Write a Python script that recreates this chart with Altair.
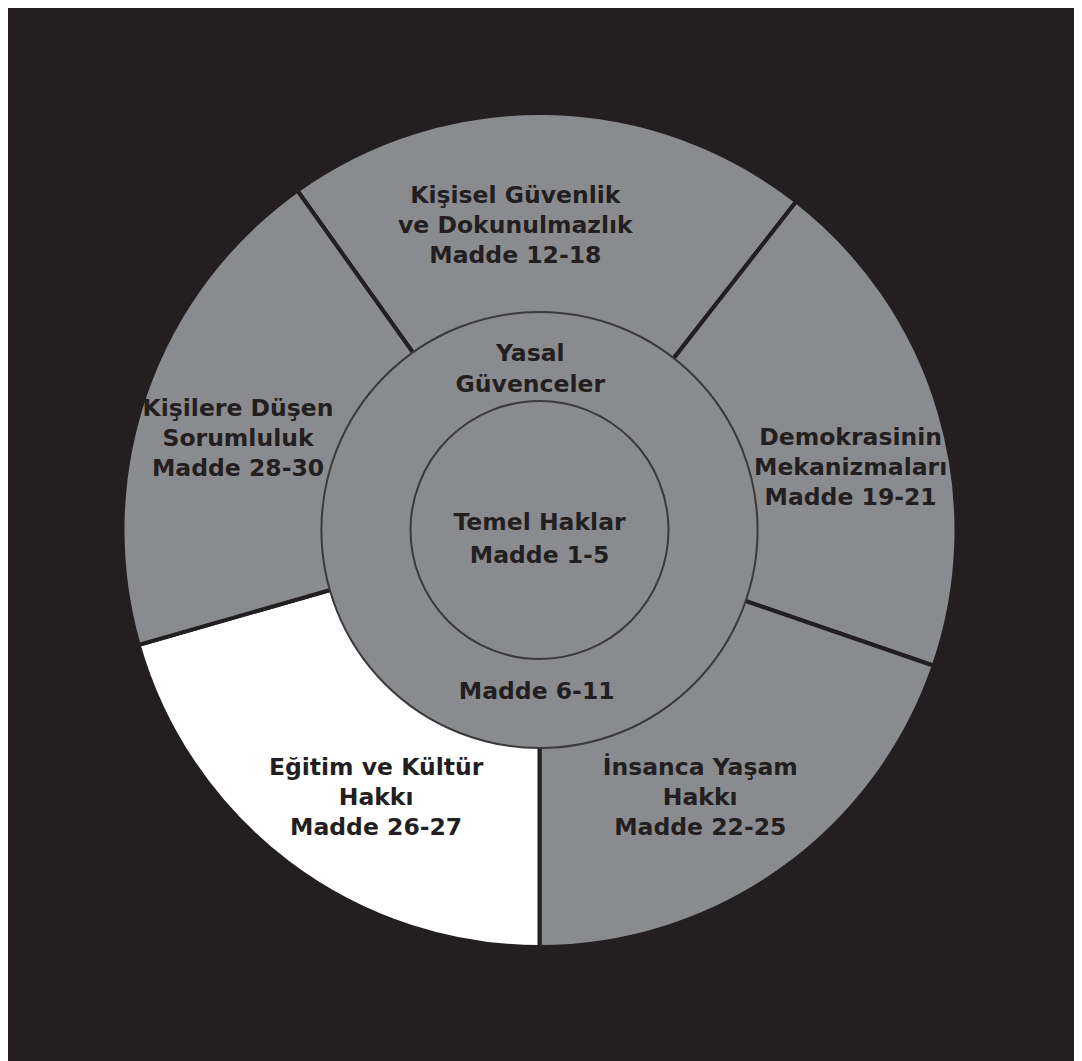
import math
import altair as alt
import pandas as pd

# Outer ring segments (clockwise from the top), angular spans in degrees
segments = ["Kişisel Güvenlik", "Demokrasinin", "İnsanca Yaşam", "Eğitim ve Kültür", "Kişilere Düşen"]
spans = [73.5, 71.0, 71.0, 74.0, 70.5]
outer_labels = [
    "Kişisel Güvenlik\nve Dokunulmazlık\nMadde 12-18",
    "Demokrasinin\nMekanizmaları\nMadde 19-21",
    "İnsanca Yaşam\nHakkı\nMadde 22-25",
    "Eğitim ve Kültür\nHakkı\nMadde 26-27",
    "Kişilere Düşen\nSorumluluk\nMadde 28-30",
]
seg_colors = ["#8a8b8e", "#8a8b8e", "#8a8b8e", "#ffffff", "#8a8b8e"]

middle_top = ["Yasal\nGüvenceler"]
middle_bottom = ["Madde 6-11"]
inner_label = ["Temel Haklar\nMadde 1-5"]

BG = "#231f20"
GRAY = "#8a8b8e"
INK = "#231f20"
FONT = "DejaVu Sans"
FS = 23.5

CX, CY = 531.5, 522
R_OUT, R_MID, R_IN = 417, 218, 129
start = math.radians(-35.5)

# label nudges (px) from the segment mid-angle anchor
nudges = {
    "Kişisel Güvenlik": (-31, -21),
    "Demokrasinin": (11, -3),
    "İnsanca Yaşam": (-21, -17),
    "Eğitim ve Kültür": (25, -12),
    "Kişilere Düşen": (-6, -18),
}

outer = pd.DataFrame({
    "segment": segments,
    "span": spans,
    "label": outer_labels,
    "order": list(range(len(segments))),
})

theta = alt.Theta("span:Q", stack=True,
                  scale=alt.Scale(domain=[0, 360], range=[start, start + 2 * math.pi]))
center = dict(x=alt.value(CX), y=alt.value(CY))

outer_arcs = alt.Chart(outer).mark_arc(
    innerRadius=R_MID - 5, outerRadius=R_OUT, stroke=BG, strokeWidth=4
).encode(
    theta=theta,
    order=alt.Order("order:Q"),
    color=alt.Color("segment:N", scale=alt.Scale(domain=segments, range=seg_colors), legend=None),
    **center,
)

text_layers = []
for seg in segments:
    dx, dy = nudges[seg]
    text_layers.append(
        alt.Chart(outer).mark_text(
            radius=313, font=FONT, fontWeight="bold", fontSize=FS, lineBreak="\n",
            lineHeight=30, color=INK, align="center", baseline="middle", dx=dx, dy=dy
        ).encode(
            theta=theta,
            order=alt.Order("order:Q"),
            text="label:N",
            opacity=alt.condition(alt.datum.segment == seg, alt.value(1), alt.value(0)),
            **center,
        )
    )

mid_df = pd.DataFrame({"v": [1]})
mid_disk = alt.Chart(mid_df).mark_arc(
    outerRadius=R_MID, fill=GRAY, stroke="#3a3a3c", strokeWidth=2
).encode(theta=alt.Theta("v:Q"), **center)

inner_disk = alt.Chart(mid_df).mark_arc(
    outerRadius=R_IN, fill=GRAY, stroke="#3a3a3c", strokeWidth=2
).encode(theta=alt.Theta("v:Q"), **center)

top_text = alt.Chart(pd.DataFrame({"t": middle_top})).mark_text(
    theta=math.radians(357), radius=176, font=FONT, fontWeight="bold", fontSize=FS,
    lineBreak="\n", lineHeight=31, color=INK, baseline="middle"
).encode(text="t:N", **center)

bottom_text = alt.Chart(pd.DataFrame({"t": middle_bottom})).mark_text(
    theta=math.radians(181), radius=162, font=FONT, fontWeight="bold", fontSize=FS,
    color=INK, baseline="middle"
).encode(text="t:N", **center)

inner_text = alt.Chart(pd.DataFrame({"t": inner_label})).mark_text(
    font=FONT, fontWeight="bold", fontSize=FS,
    lineBreak="\n", lineHeight=33, color=INK, baseline="middle", dy=-7
).encode(text="t:N", **center)

chart = alt.layer(
    outer_arcs, *text_layers, mid_disk, inner_disk, top_text, bottom_text, inner_text
).resolve_scale(theta="independent").properties(
    width=1066, height=1053, background=BG, padding=0,
    autosize=alt.AutoSizeParams(type="none"),
).configure_view(stroke=None)

chart.save("out.html", embed_options={"renderer": "svg", "actions": False})
